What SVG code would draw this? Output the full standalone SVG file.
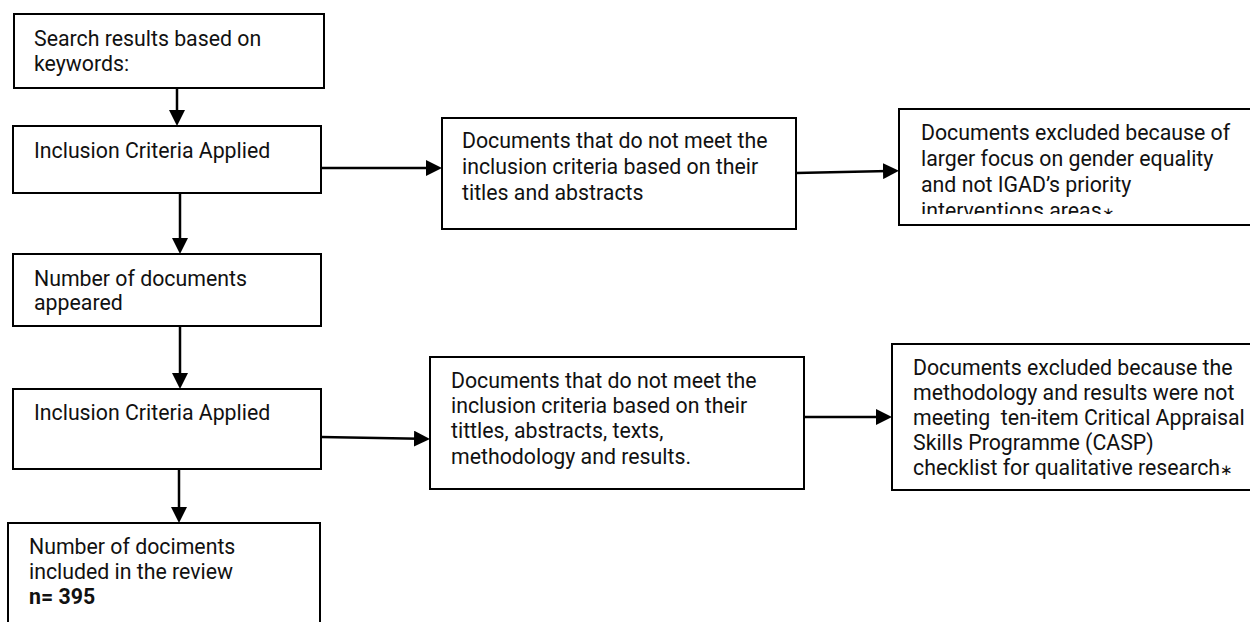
<svg xmlns="http://www.w3.org/2000/svg" width="1250" height="622" viewBox="0 0 1250 622">
  <style>
    .box { fill: #ffffff; stroke: #000000; stroke-width: 2; }
    .t { font-family: Roboto, "Liberation Sans", sans-serif; font-size: 21.3px; fill: #111111; }
    .b { font-weight: bold; }
    .ast { font-size: 15px; }
    .edge { stroke: #000000; stroke-width: 2.5; fill: none; marker-end: url(#arrow); }
  </style>
  <defs>
    <marker id="arrow" viewBox="0 0 16 16" refX="6" refY="8" markerWidth="16" markerHeight="16" markerUnits="userSpaceOnUse" orient="auto">
      <path d="M0,0 L16,8 L0,16 z" fill="#000000"/>
    </marker>
    <clipPath id="clip4"><rect x="899" y="109" width="360" height="105"/></clipPath>
    <clipPath id="clip8"><rect x="892" y="344" width="370" height="135"/></clipPath>
  </defs>
  <rect width="1250" height="622" fill="#ffffff"/>

  <g id="connectors">
    <path class="edge" d="M177,88 L177,116"/>
    <path class="edge" d="M321,168 L432,168"/>
    <path class="edge" d="M796,173 L889,171"/>
    <path class="edge" d="M180,193 L180,244"/>
    <path class="edge" d="M180,326 L180,379"/>
    <path class="edge" d="M321,437 L420,438.8"/>
    <path class="edge" d="M804,417 L882,417"/>
    <path class="edge" d="M179,469 L179,513"/>
  </g>

  <g id="n1">
    <rect class="box" x="14" y="14" width="310" height="74"/>
    <text class="t" x="34" y="46">Search results based on</text>
    <text class="t" x="34" y="71">keywords:</text>
  </g>
  <g id="n2">
    <rect class="box" x="13" y="126" width="308" height="67"/>
    <text class="t" x="34" y="158">Inclusion Criteria Applied</text>
  </g>
  <g id="n3">
    <rect class="box" x="442" y="118" width="354" height="111"/>
    <text class="t" x="462" y="148">Documents that do not meet the</text>
    <text class="t" x="462" y="174">inclusion criteria based on their</text>
    <text class="t" x="462" y="200">titles and abstracts</text>
  </g>
  <g id="n4">
    <rect class="box" x="899" y="109" width="360" height="116"/>
    <g clip-path="url(#clip4)">
      <text class="t" x="921" y="140">Documents excluded because of</text>
      <text class="t" x="921" y="166">larger focus on gender equality</text>
      <text class="t" x="921" y="192">and not IGAD’s priority</text>
      <text class="t" x="921" y="218">interventions areas<tspan class="ast">∗</tspan></text>
    </g>
  </g>
  <g id="n5">
    <rect class="box" x="13" y="254" width="308" height="72"/>
    <text class="t" x="34" y="286">Number of documents</text>
    <text class="t" x="34" y="310">appeared</text>
  </g>
  <g id="n6">
    <rect class="box" x="13" y="389" width="308" height="80"/>
    <text class="t" x="34" y="420">Inclusion Criteria Applied</text>
  </g>
  <g id="n7">
    <rect class="box" x="430" y="357" width="374" height="132"/>
    <text class="t" x="451" y="388">Documents that do not meet the</text>
    <text class="t" x="451" y="413">inclusion criteria based on their</text>
    <text class="t" x="451" y="438">tittles, abstracts, texts,</text>
    <text class="t" x="451" y="464">methodology and results.</text>
  </g>
  <g id="n8">
    <rect class="box" x="892" y="344" width="370" height="146"/>
    <g clip-path="url(#clip8)">
      <text class="t" x="913" y="375">Documents excluded because the</text>
      <text class="t" x="913" y="400">methodology and results were not</text>
      <text class="t" x="913" y="425" xml:space="preserve">meeting  ten-item Critical Appraisal</text>
      <text class="t" x="913" y="450">Skills Programme (CASP)</text>
      <text class="t" x="913" y="475">checklist for qualitative research<tspan class="ast">∗</tspan></text>
    </g>
  </g>
  <g id="n9">
    <rect class="box" x="8" y="523" width="312" height="110"/>
    <text class="t" x="29" y="554">Number of dociments</text>
    <text class="t" x="29" y="579">included in the review</text>
    <text class="t b" x="29" y="604">n= 395</text>
  </g>
</svg>
